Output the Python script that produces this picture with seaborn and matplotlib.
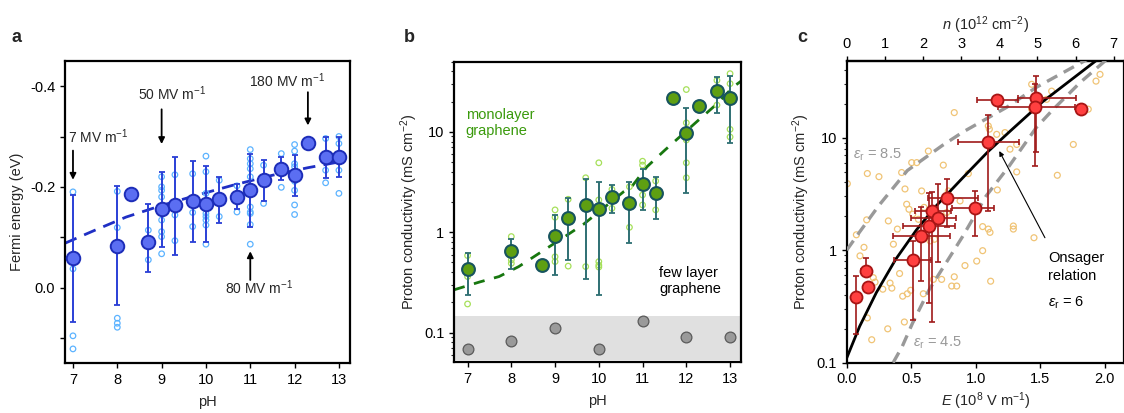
import numpy as np
import matplotlib
matplotlib.use("Agg")
import matplotlib.pyplot as plt
import matplotlib.ticker as mticker
import seaborn as sns

# ---------------- panel a : Fermi energy vs pH ----------------
ph_a = [7, 8, 8.3, 8.7, 9, 9.3, 9.7, 10, 10.3, 10.7, 11, 11.3, 11.7, 12, 12.3, 12.7, 13]
ef_a = [-0.058, -0.083, -0.185, -0.090, -0.156, -0.164, -0.172, -0.166, -0.175,
        -0.180, -0.193, -0.213, -0.236, -0.224, -0.288, -0.259, -0.259]
ef_top_a = [-0.183, -0.201, -0.185, -0.165, -0.230, -0.259, -0.251, -0.242, -0.220,
            -0.205, -0.266, -0.254, -0.259, -0.264, -0.291, -0.299, -0.300]
ef_bot_a = [0.068, 0.034, -0.185, -0.030, -0.080, -0.065, -0.091, -0.090, -0.129,
            -0.155, -0.121, -0.172, -0.213, -0.182, -0.285, -0.218, -0.220]

ph_a_raw = [7, 7, 7, 7, 8, 8, 8, 8, 8, 8.7, 8.7,
            9, 9, 9, 9, 9, 9, 9, 9, 9, 9.3, 9.3, 9.3,
            9.7, 9.7, 9.7, 9.7,
            10, 10, 10, 10, 10, 10, 10, 10, 10, 10.3, 10.3, 10.7, 10.7,
            11, 11, 11, 11, 11, 11, 11, 11, 11, 11, 11.3, 11.3, 11.7, 11.7,
            12, 12, 12, 12, 12, 12, 12, 12, 12.7, 12.7, 12.7,
            13, 13, 13, 13, 13]
ef_a_raw = [-0.190, -0.037, 0.096, 0.122, -0.191, -0.119, 0.061, 0.071, 0.079, -0.114, -0.055,
            -0.220, -0.200, -0.193, -0.180, -0.154, -0.134, -0.111, -0.101, -0.067, -0.224, -0.144, -0.093,
            -0.226, -0.167, -0.149, -0.121,
            -0.261, -0.230, -0.187, -0.160, -0.147, -0.141, -0.134, -0.124, -0.086, -0.213, -0.141, -0.202, -0.150,
            -0.274, -0.256, -0.246, -0.236, -0.220, -0.160, -0.150, -0.147, -0.125, -0.086, -0.243, -0.167, -0.266, -0.199,
            -0.284, -0.271, -0.246, -0.240, -0.211, -0.193, -0.164, -0.145, -0.296, -0.233, -0.208,
            -0.300, -0.286, -0.250, -0.233, -0.187]

ph_fit_a = [6.82, 7.5, 8.2, 9.0, 9.7, 10.6, 11.5, 12.3, 13.1]
ef_fit_a = [-0.088, -0.114, -0.140, -0.163, -0.181, -0.203, -0.223, -0.238, -0.251]

# ---------------- panel b : conductivity vs pH ----------------
ph_b = [7, 8, 8.7, 9, 9.3, 9.7, 10, 10.3, 10.7, 11, 11.3, 11.7, 12, 12.3, 12.7, 13]
sig_b = [0.432, 0.657, 0.473, 0.927, 1.38, 1.87, 1.71, 2.26, 1.97, 3.02, 2.44, 21.9, 9.85, 18.0, 25.5, 21.9]
sig_top_b = [0.628, 0.858, 0.473, 1.49, 2.18, 3.39, 3.19, 2.96, 3.19, 4.22, 3.52, 21.9, 17.3, 18.0, 35.2, 35.7]
sig_bot_b = [0.238, 0.432, 0.473, 0.376, 0.53, 0.346, 0.235, 1.54, 0.777, 1.67, 1.35, 21.9, 2.48, 18.0, 15.5, 7.66]

ph_b_raw = [7, 7, 7, 8, 8, 8, 9, 9, 9, 9, 9.3, 9.3, 9.7, 9.7,
            10, 10, 10, 10, 10, 10, 10.3, 10.3, 10.7, 10.7, 11, 11, 11, 11, 11.3, 11.3,
            12, 12, 12, 12, 12, 12.7, 12.7, 13, 13, 13, 13]
sig_b_raw = [0.586, 0.362, 0.193, 0.906, 0.531, 0.49, 1.67, 1.41, 0.57, 0.51, 2.13, 0.46, 3.49, 0.455,
             4.92, 2.1, 1.67, 0.51, 0.47, 0.45, 2.67, 1.73, 2.84, 1.12, 5.1, 4.67, 2.35, 1.87, 3.24, 1.67,
             26.4, 12.3, 8.3, 4.92, 3.49, 32.6, 18.5, 38.0, 30.2, 10.6, 8.9]

ph_fit_b = [6.69, 7.28, 7.72, 8.17, 8.78, 9.28, 9.66, 10.57, 10.75, 11.1, 11.51, 12.28, 12.7, 13.07, 13.25]
sig_fit_b = [0.267, 0.32, 0.362, 0.455, 0.678, 0.94, 1.21, 2.54, 2.84, 4.49, 6.58, 13.1, 19.0, 28.0, 32.0]

ph_few = [7, 8, 9, 10, 11, 12, 13]
sig_few = [0.069, 0.083, 0.110, 0.069, 0.132, 0.091, 0.091]

# ---------------- panel c : conductivity vs field ----------------
e_c = [0.072, 0.150, 0.168, 0.516, 0.578, 0.640, 0.661, 0.708, 0.780, 0.995, 1.093, 1.163, 1.467, 1.462, 1.816]
sig_c = [0.38, 0.65, 0.47, 0.81, 1.33, 1.63, 2.22, 1.94, 2.93, 2.37, 9.18, 21.6, 22.4, 18.6, 17.9]
e_lo_c = [0.072, 0.112, 0.168, 0.367, 0.36, 0.44, 0.53, 0.50, 0.63, 0.82, 0.86, 1.01, 1.325, 1.17, 1.816]
e_hi_c = [0.072, 0.190, 0.168, 0.65, 0.80, 0.84, 0.81, 0.85, 1.02, 1.145, 1.333, 1.33, 1.778, 1.77, 1.816]
sig_lo_c = [0.18, 0.65, 0.47, 0.24, 0.53, 0.34, 0.23, 0.78, 1.62, 1.33, 2.22, 21.6, 7.5, 5.6, 17.9]
sig_hi_c = [0.585, 0.86, 0.47, 1.2, 2.4, 3.25, 3.3, 3.85, 4.26, 3.35, 15.9, 21.6, 35.0, 30.0, 17.9]

e_raw_c = [0.005, 0.075, 0.103, 0.134, 0.16, 0.155, 0.16, 0.194, 0.206, 0.22, 0.25, 0.318, 0.323,
           0.336, 0.35, 0.362, 0.393, 0.426, 0.434, 0.447, 0.452, 0.465, 0.47, 0.483, 0.496, 0.504,
           0.512, 0.543, 0.556, 0.581, 0.594, 0.633, 0.646, 0.672, 0.736, 0.749, 0.775, 0.788, 0.814,
           0.834, 0.834, 0.853, 0.879, 0.917, 0.943, 1.008, 1.054, 1.054, 1.098, 1.106, 1.098, 1.111,
           1.116, 1.163, 1.168, 1.227, 1.266, 1.292, 1.292, 1.318, 1.318, 1.434, 1.452, 1.434, 1.589,
           1.55, 1.633, 1.757, 1.873, 1.933, 1.964, 0.28, 0.41, 0.6, 0.68]
sig_raw_c = [3.9, 1.37, 0.89, 1.06, 4.8, 1.86, 0.25, 0.16, 0.57, 0.52, 4.5, 0.2, 1.82,
             0.51, 0.46, 1.13, 1.54, 4.9, 0.39, 0.23, 3.5, 2.56, 0.41, 2.31, 0.44, 6.0,
             2.09, 6.0, 1.88, 3.36, 0.41, 7.6, 1.21, 0.55, 0.55, 5.7, 2.16, 3.36, 0.48,
             16.7, 0.58, 0.48, 2.74, 0.73, 4.79, 0.8, 0.99, 1.62, 12.7, 11.9, 1.54, 1.44,
             0.53, 10.7, 3.43, 11.1, 7.9, 1.64, 1.54, 4.96, 8.7, 17.9, 1.29, 29.8, 25.9,
             21.9, 4.63, 8.7, 17.9, 31.8, 36.5, 0.45, 0.62, 2.4, 1.25]

e_on6 = [0.0, 0.1, 0.23, 0.38, 0.54, 0.69, 0.9, 1.1, 1.27, 1.52, 1.95]
sig_on6 = [0.11, 0.21, 0.42, 0.83, 1.51, 2.45, 4.4, 7.6, 11.5, 20.9, 50.0]
e_on85 = [0.0, 0.1, 0.25, 0.47, 0.74, 0.9, 1.24, 1.47, 1.87]
sig_on85 = [1.0, 1.45, 2.5, 5.1, 8.5, 11.2, 18.6, 28.0, 50.0]
e_on45 = [0.36, 0.43, 0.51, 0.64, 0.77, 0.9, 1.08, 1.26, 1.47, 1.6, 1.81, 2.02]
sig_on45 = [0.1, 0.139, 0.224, 0.447, 0.77, 1.33, 3.02, 5.6, 12.3, 17.8, 30.9, 50.0]

n_per_e = 3.38   # 10^12 cm^-2 per 10^8 V/m

# ---------------- style ----------------
sns.set_theme(style="ticks")
plt.rcParams['font.family'] = ['Liberation Sans', 'DejaVu Sans']
plt.rcParams['mathtext.fontset'] = 'custom'
plt.rcParams['mathtext.rm'] = 'Liberation Sans'
plt.rcParams['mathtext.it'] = 'Liberation Sans:italic'
plt.rcParams['font.size'] = 10
plt.rcParams['axes.linewidth'] = 1.6
plt.rcParams['xtick.major.width'] = 1.0
plt.rcParams['ytick.major.width'] = 1.0
plt.rcParams['xtick.major.size'] = 3.5
plt.rcParams['ytick.major.size'] = 3.5
plt.rcParams['ytick.minor.size'] = 2.2
plt.rcParams['ytick.minor.width'] = 0.8

fig = plt.figure(figsize=(11.24, 4.13), dpi=100)
W, H = 1124, 413


def box(l, r, t, b):
    return [l / W, 1 - b / H, (r - l) / W, (b - t) / H]


ax_a = fig.add_axes(box(65, 350, 61, 363))
ax_b = fig.add_axes(box(454, 741, 61.7, 362))
ax_c = fig.add_axes(box(846.7, 1124, 61, 362.7))

for ax in (ax_a, ax_b, ax_c):
    for s in ax.spines.values():
        s.set_color('black')
    ax.tick_params(colors='black', labelsize=10.5)

# ---- panel a
blue_dark = '#1f2fc4'
sns.lineplot(x=ph_fit_a, y=ef_fit_a, ax=ax_a, color=blue_dark, lw=2.0,
             linestyle=(0, (4.5, 3)), zorder=2)
sns.scatterplot(x=ph_a_raw, y=ef_a_raw, ax=ax_a, marker='o', s=16,
                facecolor='none', edgecolor='#5cb3ff', linewidth=0.9, zorder=3)
ef_arr = np.array(ef_a)
ax_a.errorbar(ph_a, ef_a, yerr=[ef_arr - np.array(ef_top_a), np.array(ef_bot_a) - ef_arr],
              fmt='none', ecolor='#2a3fd6', elinewidth=1.4, capsize=2.5, capthick=1.3, zorder=4)
sns.scatterplot(x=ph_a, y=ef_a, ax=ax_a, s=95, color='#5b6ef2', edgecolor='#1d2db8',
                linewidth=1.4, zorder=5)
ax_a.set_xlim(6.82, 13.25)
ax_a.set_ylim(0.15, -0.45)
ax_a.set_xticks(range(7, 14))
ax_a.set_yticks([-0.4, -0.3, -0.2, -0.1, 0.0, 0.1])
ax_a.yaxis.set_major_formatter(mticker.FuncFormatter(
    lambda v, p: f"{v:.1f}" if round(v * 10) % 2 == 0 else ""))
ax_a.set_xlabel("pH", fontsize=10.5, labelpad=6)
ax_a.set_ylabel("Fermi energy (eV)", fontsize=10.5, labelpad=4)

arr = dict(arrowstyle='-|>', color='black', lw=1.3, mutation_scale=9, shrinkA=0, shrinkB=0)
ax_a.text(6.88, -0.300, r"7 MV m$^{-1}$", ha='left', va='center', fontsize=10)
ax_a.annotate("", xy=(7, -0.214), xytext=(7, -0.272), arrowprops=arr)
ax_a.text(9.24, -0.385, r"50 MV m$^{-1}$", ha='center', va='center', fontsize=10)
ax_a.annotate("", xy=(9, -0.285), xytext=(9, -0.354), arrowprops=arr)
ax_a.text(11.82, -0.410, r"180 MV m$^{-1}$", ha='center', va='center', fontsize=10)
ax_a.annotate("", xy=(12.3, -0.322), xytext=(12.3, -0.388), arrowprops=arr)
ax_a.text(11.2, 0.001, r"80 MV m$^{-1}$", ha='center', va='center', fontsize=10)
ax_a.annotate("", xy=(11, -0.072), xytext=(11, -0.015), arrowprops=arr)

# ---- panel b
ax_b.set_yscale('log')
ax_b.axhspan(0.054, 0.148, color='#e0e0e0', lw=0, zorder=0)
sns.lineplot(x=ph_fit_b, y=sig_fit_b, ax=ax_b, color='#17770f', lw=2.0,
             linestyle=(0, (4, 3.5)), zorder=2)
sns.scatterplot(x=ph_b_raw, y=sig_b_raw, ax=ax_b, marker='o', s=16,
                facecolor='none', edgecolor='#a6e05a', linewidth=0.9, zorder=3)
sb = np.array(sig_b)
ax_b.errorbar(ph_b, sig_b, yerr=[sb - np.array(sig_bot_b), np.array(sig_top_b) - sb],
              fmt='none', ecolor='#2e6f73', elinewidth=1.4, capsize=2.5, capthick=1.3, zorder=4)
sns.scatterplot(x=ph_b, y=sig_b, ax=ax_b, s=85, color='#5e9f12', edgecolor='#17545e',
                linewidth=1.5, zorder=5)
sns.scatterplot(x=ph_few, y=sig_few, ax=ax_b, s=60, color='#9a9a9a', edgecolor='#5a5a5a',
                linewidth=0.9, zorder=5)
ax_b.set_xlim(6.69, 13.25)
ax_b.set_ylim(0.051, 50)
ax_b.set_xticks(range(7, 14))
ax_b.yaxis.set_major_formatter(mticker.FuncFormatter(lambda v, p: f"{v:g}"))
ax_b.yaxis.set_minor_formatter(mticker.NullFormatter())
ax_b.set_xlabel("pH", fontsize=10.5, labelpad=6)
ax_b.set_ylabel(r"Proton conductivity (mS cm$^{-2}$)", fontsize=10.5, labelpad=3)
ax_b.text(6.96, 12.3, "monolayer\ngraphene", color='#3a9a0c', ha='left', va='center',
          fontsize=10.5, linespacing=1.2)
ax_b.text(11.38, 0.325, "few layer\ngraphene", color='black', ha='left', va='center',
          fontsize=10.5, linespacing=1.2)

# ---- panel c
ax_c.set_yscale('log')
sns.scatterplot(x=e_raw_c, y=sig_raw_c, ax=ax_c, marker='o', s=18,
                facecolor='none', edgecolor='#f0c476', linewidth=0.9, zorder=2)
sns.lineplot(x=e_on85, y=sig_on85, ax=ax_c, color='#999999', lw=2.4,
             linestyle=(0, (3.5, 2.2)), zorder=3)
sns.lineplot(x=e_on45, y=sig_on45, ax=ax_c, color='#999999', lw=2.4,
             linestyle=(0, (3.5, 2.2)), zorder=3)
sns.lineplot(x=e_on6, y=sig_on6, ax=ax_c, color='black', lw=2.0, zorder=3)
ec = np.array(e_c)
sc = np.array(sig_c)
ax_c.errorbar(e_c, sig_c, xerr=[ec - np.array(e_lo_c), np.array(e_hi_c) - ec],
              yerr=[sc - np.array(sig_lo_c), np.array(sig_hi_c) - sc],
              fmt='none', ecolor='#a01a1a', elinewidth=1.2, capsize=2.5, capthick=1.2, zorder=4)
sns.scatterplot(x=e_c, y=sig_c, ax=ax_c, s=75, color='#ff4040', edgecolor='#a81515',
                linewidth=1.3, zorder=5)
ax_c.set_xlim(0, 2.15)
ax_c.set_ylim(0.1, 48)
ax_c.set_xticks([0, 0.5, 1.0, 1.5, 2.0])
ax_c.xaxis.set_major_formatter(mticker.FuncFormatter(lambda v, p: f"{v:.1f}"))
ax_c.yaxis.set_major_formatter(mticker.FuncFormatter(lambda v, p: f"{v:g}"))
ax_c.yaxis.set_minor_formatter(mticker.NullFormatter())
ax_c.set_xlabel(r"$\it{E}$ (10$^{8}$ V m$^{-1}$)", fontsize=10.5, labelpad=3)
ax_c.set_ylabel(r"Proton conductivity (mS cm$^{-2}$)", fontsize=10.5, labelpad=3)

top = ax_c.secondary_xaxis('top', functions=(lambda e: e * n_per_e, lambda n: n / n_per_e))
top.set_xticks(range(0, 8))
top.tick_params(labelsize=10.5, colors='black')
top.set_xlabel(r"$\it{n}$ (10$^{12}$ cm$^{-2}$)", fontsize=10.5, labelpad=5)

ax_c.text(0.05, 7.0, r"$\varepsilon_{\rm r}$ = 8.5", color='#999999', fontsize=10.5,
          ha='left', va='center')
ax_c.text(0.516, 0.149, r"$\varepsilon_{\rm r}$ = 4.5", color='#999999', fontsize=10.5,
          ha='left', va='center')
ax_c.text(1.563, 0.71, "Onsager\nrelation", color='black', fontsize=10.5,
          ha='left', va='center', linespacing=1.3)
ax_c.text(1.563, 0.34, r"$\varepsilon_{\rm r}$ = 6", color='black', fontsize=10.5,
          ha='left', va='center')
ax_c.annotate("", xy=(1.183, 7.6), xytext=(1.537, 1.29),
              arrowprops=dict(arrowstyle='-|>', color='black', lw=0.8, mutation_scale=7,
                              shrinkA=0, shrinkB=0))

for lab, x in (("a", 12), ("b", 404), ("c", 797)):
    fig.text(x / W, 1 - 38 / H, lab, fontsize=13, fontweight='bold', ha='left', va='center')

fig.savefig("out.png", dpi=100)
